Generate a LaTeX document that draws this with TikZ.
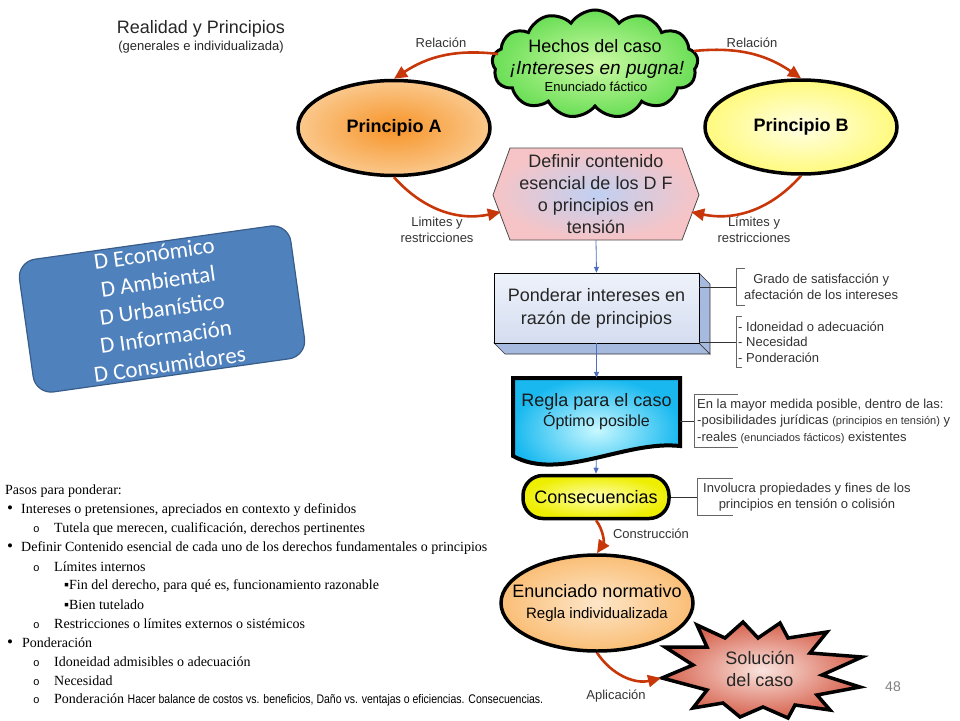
\documentclass[tikz,border=0pt]{standalone}
\usepackage{fontspec}
\setmainfont{Liberation Sans}
\newfontfamily\pasosfont{Liberation Serif}
\newfontfamily\calfont{Carlito}
\newfontfamily\bulfont{Liberation Mono}
\usepackage{graphicx}
\usetikzlibrary{shapes.geometric,shapes.symbols,arrows.meta,positioning}

\definecolor{flecha}{RGB}{200,55,10}
\definecolor{linea}{RGB}{79,110,190}
\definecolor{azul}{RGB}{79,129,189}
\definecolor{azulborde}{RGB}{56,93,138}
\definecolor{nubeC}{RGB}{205,250,165}
\definecolor{nubeB}{RGB}{105,222,85}
\definecolor{naranjaC}{RGB}{247,148,40}
\definecolor{naranjaB}{RGB}{250,200,140}
\definecolor{amarC}{RGB}{255,255,228}
\definecolor{amarB}{RGB}{255,250,125}
\definecolor{rosaB}{RGB}{246,196,198}
\definecolor{rosaC}{RGB}{192,208,242}
\definecolor{cajaA}{RGB}{238,242,250}
\definecolor{cajaB}{RGB}{212,221,240}
\definecolor{cajaLado}{RGB}{166,186,224}
\definecolor{cianC}{RGB}{200,248,255}
\definecolor{cianB}{RGB}{25,185,240}
\definecolor{consC}{RGB}{255,255,175}
\definecolor{consB}{RGB}{238,238,0}
\definecolor{enunC}{RGB}{253,230,200}
\definecolor{enunB}{RGB}{250,190,118}
\definecolor{solC}{RGB}{250,228,222}
\definecolor{solB}{RGB}{214,98,78}

\newcommand{\px}[2]{\fontsize{#1}{#2}\selectfont}

\begin{document}
\begin{tikzpicture}[x=1pt,y=-1pt,
  flechaR/.style={flecha, line width=2.6pt, -{Triangle[length=13pt,width=12pt]}},
  flechaA/.style={linea, line width=0.8pt, -{Triangle[length=6pt,width=5pt]}},
  etiq/.style={font=\px{13}{16}, text=black!80, align=center},
  grueso/.style={draw=black, line width=3.5pt},
  nota/.style={font=\px{13}{16}, text=black!80, inner ysep=0pt},
  corchete/.style={black!60, line width=0.8pt},
  pasos/.style={anchor=west, inner sep=0pt, font=\pasosfont\px{14}{16}},
]
\useasboundingbox (0,0) rectangle (960,720);

% titulo
\node[font=\px{18}{20}, text=black!85] (titulo) at (201,29) {Realidad y Principios};
\node[font=\px{13}{15}, text=black!85] (subtit) at (201,47) {(generales e individualizada)};

% hechos y principios
\node[cloud, cloud puffs=13, cloud puff arc=115, aspect=2, minimum width=206, minimum height=108,
      draw=black, line width=3pt, inner color=nubeC, outer color=nubeB] (hechos) at (595,64) {};
\node[font=\px{18}{20}] (hechosT) at (595,46) {Hechos del caso};
\node[font=\itshape\px{19}{22}] (pugna) at (597,70) {¡Intereses en pugna!};
\node[font=\px{13}{15}] (factico) at (596,87) {Enunciado fáctico};
\coordinate (nubeL) at ([xshift=7pt,yshift=10pt]hechos.west);
\coordinate (nubeR) at ([xshift=-5pt,yshift=13pt]hechos.east);

\node[ellipse, grueso, minimum width=192, minimum height=95, inner color=naranjaC, outer color=naranjaB,
      font=\bfseries\px{18}{20}] (princA) at (394,128) {Principio A};
\node[ellipse, grueso, minimum width=192, minimum height=94, inner color=amarC, outer color=amarB,
      font=\bfseries\px{18}{20}] (princB) at (801,127) {Principio B};

\draw[flechaR] (nubeL) to[bend right=20] (princA.north);
\draw[flechaR] (nubeR) to[bend left=20] (princB.north);
\node[etiq] (rel1) at (441,43) {Relación};
\node[etiq] (rel2) at (752,43) {Relación};

% contenido esencial
\shadedraw[inner color=rosaC, outer color=rosaB, draw=black!70, line width=0.8pt]
  (510,148) -- (682,148) -- (699,195) -- (682,240) -- (510,240) -- (493,195) -- cycle;
\node[minimum width=190, minimum height=92, align=center, font=\px{18}{22}, text=black!85] (defin) at (596,194)
  {Definir contenido\\esencial de los D F\\o principios en\\tensión};
\coordinate (hexL) at ([yshift=-18pt]defin.west);
\coordinate (hexR) at ([yshift=-18pt]defin.east);

\draw[flechaR] (princA.south) to[bend right=30] (hexL);
\draw[flechaR] (princB.south) to[bend left=30] (hexR);
\node[etiq] (lim1) at (437,230) {Limites y\\restricciones};
\node[etiq] (lim2) at (754,230) {Límites y\\restricciones};

% ponderar
\filldraw[fill=cajaLado, draw=black!80, line width=0.6pt] (494,343) -- (505,354) -- (710,354) -- (699,343) -- cycle;
\filldraw[fill=cajaLado, draw=black!80, line width=0.6pt] (699,273) -- (710,284) -- (710,354) -- (699,343) -- cycle;
\shadedraw[top color=cajaA, bottom color=cajaB, draw=black, line width=0.8pt] (494,273) rectangle (699,343);
\node[minimum width=205, minimum height=70, align=center, font=\px{18}{23}, text=black!85] (ponder) at (596.5,308)
  {Ponderar intereses en\\razón de principios};

\node[nota, anchor=west, align=center, minimum height=36, inner xsep=8] (grado) at (736,287)
  {Grado de satisfacción y\\afectación de los intereses};
\node[nota, anchor=west, align=left, minimum height=51, inner xsep=2, font=\px{13}{15.5}] (idon) at (736,342)
  {- Idoneidad o adecuación\\- Necesidad\\- Ponderación};
\draw[corchete] ([xshift=9pt]grado.north west) -- (grado.north west) -- (grado.south west) -- ([xshift=9pt]grado.south west);
\draw[corchete] ([xshift=6pt]idon.north west) -- (idon.north west) -- (idon.south west) -- ([xshift=6pt]idon.south west);
\draw[black!80, line width=0.8pt] (grado.west -| ponder.east) -- (grado.west);
\draw[black!80, line width=0.8pt] (idon.west -| ponder.east) -- (idon.west);

% regla
\shadedraw[inner color=cianC, outer color=cianB, draw=black, line width=4pt]
  (513,378) -- (680,378) -- (680,446) .. controls (625,440) and (560,482) .. (513,456) -- cycle;
\node[minimum width=167, minimum height=68, align=center, font=\px{18}{20}, text=black!90] (regla) at (596.5,412)
  {Regla para el caso\\{\px{16}{20}Óptimo posible}};

\node[nota, anchor=west, align=left, minimum height=52, inner xsep=3, font=\px{13}{16.5}] (optimo) at (694,421)
  {En la mayor medida posible, dentro de las:\\-posibilidades jurídicas {\px{11}{13}(principios en tensión)} y\\-reales {\px{11}{13}(enunciados fácticos)} existentes};
\draw[corchete] ([xshift=44pt]optimo.north west) -- (optimo.north west) -- (optimo.south west) -- ([xshift=44pt]optimo.south west);
\draw[black!80, line width=0.8pt] (optimo.west -| regla.east) -- (optimo.west);

% consecuencias
\node[rectangle, rounded corners=20, grueso, minimum width=146, minimum height=43, inner color=consC, outer color=consB,
      font=\px{18}{20}] (consec) at (596,497) {Consecuencias};
\node[nota, anchor=west, align=center, minimum height=37, inner xsep=6] (involucra) at (697,497)
  {Involucra propiedades y fines de los\\principios en tensión o colisión};
\draw[corchete] ([xshift=36pt]involucra.north west) -- (involucra.north west) -- (involucra.south west) -- ([xshift=36pt]involucra.south west);
\draw[black!80, line width=0.8pt] (consec.east) -- (involucra.west);

% enunciado y solucion
\node[ellipse, grueso, minimum width=192, minimum height=96, inner xsep=-18pt, inner color=enunC, outer color=enunB,
      align=center, font=\px{18}{21}] (enunc) at (597,603) {Enunciado normativo\\{\px{15}{18}Regla individualizada}};

\shadedraw[inner color=solC, outer color=solB, draw=black, line width=3.5pt, line join=miter]
  (662,678) -- (693,665) -- (665,647) -- (707,647) -- (697,625) -- (725,638) -- (743,622) -- (758,638)
  -- (780,623) -- (788,638) -- (827,632) -- (810,653) -- (862,657) -- (822,675) -- (860,687) -- (817,695)
  -- (830,710) -- (795,705) -- (788,718) -- (763,707) -- (740,717) -- (723,703) -- (693,708) -- (707,690) -- cycle;
\node[align=center, font=\px{18}{22}, text=black!85] (sol) at (760,669) {Solución\\del caso};
\coordinate (solL) at (661,678);

\draw[flechaR] (consec.south) to[bend left=35] (enunc.north);
\draw[flechaR] (enunc.south) to[bend right=35] (solL);
\node[etiq] (constr) at (651,534) {Construcción};
\node[etiq] (aplic) at (616,696) {Aplicación};

% flechas azules
\draw[flechaA] (defin.south) -- (ponder.north);
\draw[flechaA] (ponder.south) -- (regla.north);
\draw[flechaA, shorten <=14pt] (regla.south) -- (consec.north);

\node[font=\px{14}{16}, text=black!50] (pagina) at (893,687) {48};

% derechos
\node[draw=azulborde, fill=azul, rounded corners=18, minimum width=274, minimum height=134, rotate=8,
      line width=1.2pt, inner sep=0pt, text=white, font=\calfont\px{23}{28}, align=center] (derechos) at (162,309)
  {D Económico\\D Ambiental\\D Urbanístico\\D Información\\D Consumidores};

% pasos para ponderar
\node[pasos] (p0) at (5,491) {Pasos para ponderar:};
\node[pasos] (p1) at (7,510) {\makebox[14pt][l]{\px{17}{16}•}Intereses o pretensiones, apreciados en contexto y definidos};
\node[pasos] (p2) at (33,529) {\makebox[21pt][l]{\bulfont\px{11}{16}o}Tutela que merecen, cualificación, derechos pertinentes};
\node[pasos] (p3) at (7,548) {\makebox[14pt][l]{\px{17}{16}•}Definir Contenido esencial de cada uno de los derechos fundamentales o principios};
\node[pasos] (p4) at (33,567) {\makebox[21pt][l]{\bulfont\px{11}{16}o}Límites internos};
\node[pasos] (p5) at (64,586) {▪Fin del derecho, para qué es, funcionamiento razonable};
\node[pasos] (p6) at (64,605) {▪Bien tutelado};
\node[pasos] (p7) at (33,624) {\makebox[21pt][l]{\bulfont\px{11}{16}o}Restricciones o límites externos o sistémicos};
\node[pasos] (p8) at (7,643) {\makebox[15pt][l]{\px{17}{16}•}Ponderación};
\node[pasos] (p9) at (33,662) {\makebox[21pt][l]{\bulfont\px{11}{16}o}Idoneidad admisibles o adecuación};
\node[pasos] (p10) at (33,681) {\makebox[21pt][l]{\bulfont\px{11}{16}o}Necesidad};
\node[pasos] (p11) at (33,700) {\makebox[21pt][l]{\bulfont\px{11}{16}o}Ponderación {\rmfamily\px{12.5}{15}\scalebox{0.84}[1]{Hacer balance de costos vs. beneficios, Daño vs. ventajas o eficiencias. Consecuencias.}}};

\end{tikzpicture}
\end{document}
